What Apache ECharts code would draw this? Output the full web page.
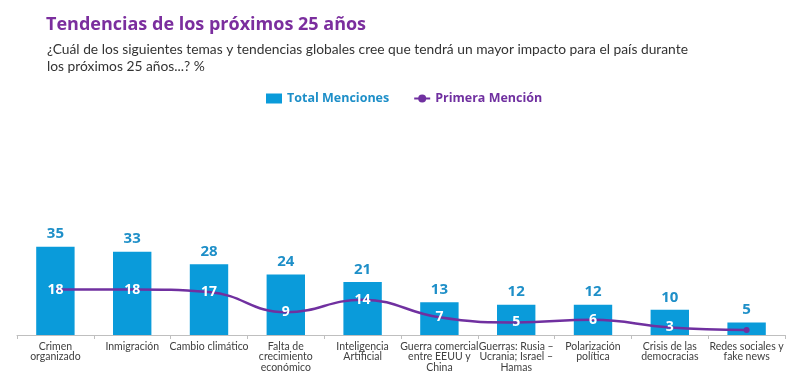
<!DOCTYPE html>
<html><head><meta charset="utf-8">
<script src="https://cdn.jsdelivr.net/npm/echarts@6/dist/echarts.min.js"></script>
<style>html,body{margin:0;padding:0;background:#fff}#c{width:800px;height:391px}</style>
</head><body><div id="c"></div>
<script>
const categories = ["Crimen\norganizado","Inmigración","Cambio climático","Falta de\ncrecimiento\neconómico","Inteligencia\nArtificial","Guerra comercial\nentre EEUU y\nChina","Guerras: Rusia –\nUcrania; Israel –\nHamas","Polarización\npolítica","Crisis de las\ndemocracias","Redes sociales y\nfake news"];
const totalMenciones = [35,33,28,24,21,13,12,12,10,5];
const primeraMencion = [18,18,17,9,14,7,5,6,3,2];
const seriesNames = ["Total Menciones","Primera Mención"];

const blue = '#0A9BDA', blueText = '#1E8FC8', purple = '#7030A0';
const chart = echarts.init(document.getElementById('c'));
const lastIdx = primeraMencion.length - 1;
chart.setOption({
  animation:false,
  title:[
    {text:'Tendencias de los próximos 25 años', left:41, top:11,
     textStyle:{fontFamily:'Open Sans', fontSize:18, fontWeight:'bold', color:'#7B2E9E'}},
    {text:'¿Cuál de los siguientes temas y tendencias globales cree que tendrá un mayor impacto para el país durante\nlos próximos 25 años...? %', left:42, top:36,
     textStyle:{fontFamily:'Lato', fontSize:13.8, fontWeight:'normal', color:'#333', lineHeight:17}}
  ],
  legend:{left:261, top:87, itemWidth:16, itemHeight:10, itemGap:24,
    textStyle:{fontFamily:'Open Sans', fontSize:12.5, fontWeight:'bold'},
    data:[{name:seriesNames[0], icon:'rect', textStyle:{color:blueText}},
          {name:seriesNames[1], textStyle:{color:purple}}]},
  grid:{left:17, right:15, top:234, bottom:56},
  xAxis:{type:'category', data:categories, boundaryGap:true,
    axisLine:{lineStyle:{color:'#bfbfbf'}},
    axisTick:{show:true, length:4, lineStyle:{color:'#bfbfbf'}},
    axisLabel:{interval:0, fontFamily:'Lato', fontSize:10.5, color:'#404040', lineHeight:10.5, margin:6}},
  yAxis:{type:'value', min:0, max:40, show:false, splitLine:{show:false}},
  series:[
    {name:seriesNames[0], type:'bar', data:totalMenciones, barWidth:'50%',
     itemStyle:{color:blue},
     label:{show:true, position:'top', distance:5, color:blueText, fontFamily:'Open Sans', fontSize:15, fontWeight:'bold'}},
    {name:seriesNames[1], type:'line', smooth:0.45, symbol:'circle', symbolSize:6, showSymbol:true,
     data:primeraMencion.map((v,i)=> i===lastIdx ? {value:v, label:{show:false}} : {value:v, symbolSize:0}),
     lineStyle:{color:purple, width:2.5}, itemStyle:{color:purple},
     label:{show:true, position:'inside', color:'#fff', fontFamily:'Open Sans', fontSize:14, fontWeight:'bold'},
     z:3}
  ]
});
</script></body></html>
